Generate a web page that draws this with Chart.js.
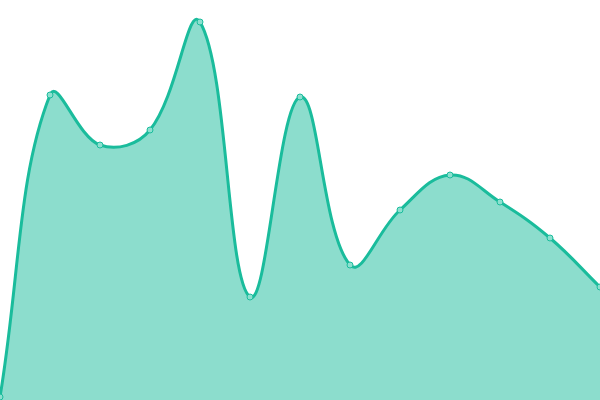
<!DOCTYPE html>
<html>
<head>
<meta charset="utf-8">
<script src="https://cdn.jsdelivr.net/npm/chart.js@4"></script>
<style>
  html, body { margin: 0; padding: 0; background: #fff; }
</style>
</head>
<body>
<canvas id="myChart" width="600" height="400"></canvas>
<script>
var labels = ["1", "2", "3", "4", "5", "6", "7", "8", "9", "10", "11", "12", "13"];
var values = [3, 305, 255, 270, 378, 103, 303, 135, 190, 225, 198, 162, 113];

var ctx = document.getElementById("myChart").getContext("2d");
var myChart = new Chart(ctx, {
    type: 'line',
    data: {
        labels: labels,
        datasets: [
            {
                data: values,
                borderColor: "#1abc9c",
                backgroundColor: "rgba(26, 188, 156, 0.5)",
                borderWidth: 3,
                pointRadius: 3,
                pointBorderWidth: 1,
                pointBackgroundColor: "#8ce0cf",
                pointBorderColor: "#1abc9c",
                tension: 0.4,
                fill: true,
                clip: false
            }
        ]
    },
    options: {
        responsive: false,
        animation: false,
        devicePixelRatio: 1,
        layout: { padding: 0, autoPadding: false },
        plugins: {
            legend: { display: false },
            tooltip: { enabled: false }
        },
        scales: {
            x: { display: false, offset: false },
            y: { display: false, min: 0, max: 400 }
        }
    }
});
</script>
</body>
</html>
